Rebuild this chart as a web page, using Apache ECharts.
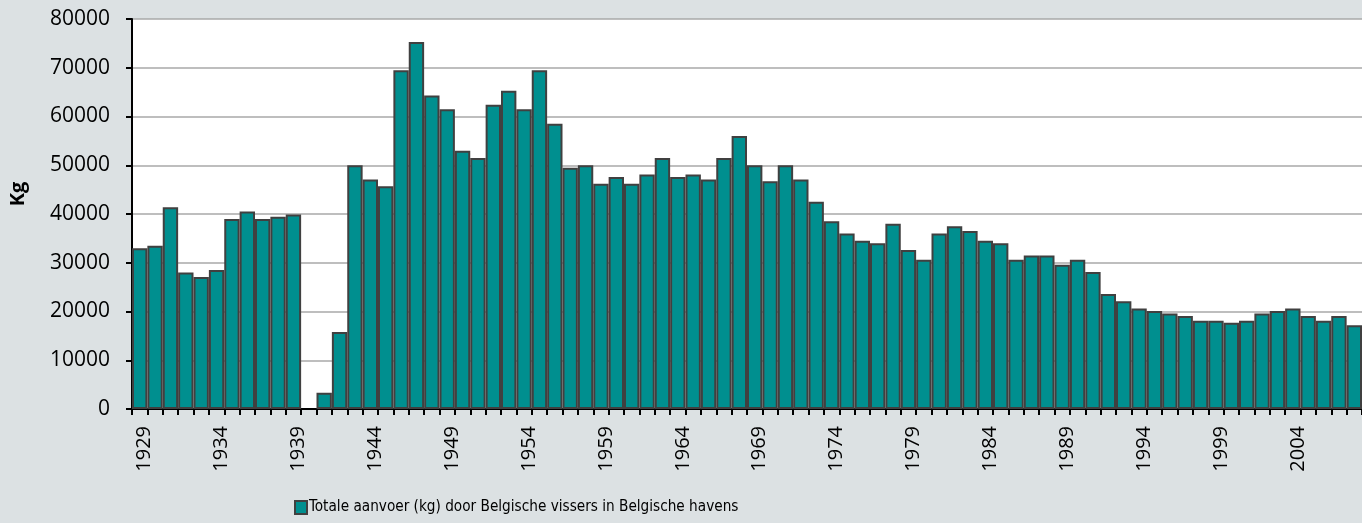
<!DOCTYPE html>
<html>
<head>
<meta charset="utf-8">
<script src="https://cdn.jsdelivr.net/npm/echarts@6/dist/echarts.min.js"></script>
<style>
html,body{margin:0;padding:0;background:#dce1e3;}
#chart{width:1362px;height:523px;}
</style>
</head>
<body>
<div id="chart"></div>
<script>
const years = [];
for (let y = 1929; y <= 2008; y++) years.push(String(y));

const seriesName = 'Totale aanvoer (kg) door Belgische vissers in Belgische havens';

const landings = [
  33000, 33500, 41400, 28000, 27100, 28500, 39000, 40500, 39000, 39450,
  39900, null, 3350, 15800, 50000, 47100, 45700, 69500, 75300, 64300,
  61500, 53000, 51500, 62400, 65300, 61500, 69500, 58500, 49500, 50000,
  46200, 47600, 46200, 48100, 51500, 47600, 48100, 47100, 51500, 56000,
  50000, 46700, 50000, 47100, 42500, 38500, 36000, 34500, 34000, 38000,
  32600, 30600, 36000, 37500, 36500, 34500, 34000, 30600, 31500, 31500,
  29600, 30600, 28100, 23600, 22100, 20600, 20100, 19600, 19100, 18100,
  18100, 17700, 18100, 19600, 20100, 20600, 19100, 18100, 19100, 17200
];

const yTicks = { min: 0, max: 80000, interval: 10000 };

const chart = echarts.init(document.getElementById('chart'), null, {renderer: 'canvas'});
const FONT = '"Open Sans", "Noto Sans", sans-serif';
chart.setOption({
  backgroundColor: '#dce1e3',
  animation: false,
  grid: {
    left: 131, top: 19, bottom: 114, width: 1238.4,
    show: true, backgroundColor: '#ffffff', borderWidth: 0
  },
  legend: {
    left: 294, top: 500, padding: 0,
    itemWidth: 12, itemHeight: 13, itemGap: 4,
    textStyle: { fontFamily: '"DejaVu Sans Condensed", Roboto, sans-serif', fontSize: 15.2, color: '#000', padding: [0, 0, 0, -3] },
    data: [{ name: seriesName, icon: 'rect', itemStyle: { color: '#008f8f', borderColor: '#404040', borderWidth: 2 } }]
  },
  xAxis: {
    type: 'category',
    data: years,
    boundaryGap: true,
    axisLine: { lineStyle: { color: '#000', width: 2 } },
    axisTick: { show: true, length: 6, interval: 0, lineStyle: { color: '#000', width: 2 } },
    axisLabel: {
      interval: 4, rotate: 90, margin: 17,
      fontFamily: FONT, fontSize: 20, color: '#000',
      verticalAlign: 'top', lineHeight: 10
    },
    splitLine: { show: false }
  },
  yAxis: {
    type: 'value',
    min: yTicks.min, max: yTicks.max, interval: yTicks.interval,
    name: 'Kg', nameLocation: 'middle', nameRotate: 90, nameGap: 104,
    nameTextStyle: { fontFamily: FONT, fontSize: 20, fontWeight: 'bold', color: '#000', padding: [0, 0, 0, 40] },
    axisLine: { show: true, lineStyle: { color: '#000', width: 2 } },
    axisTick: { show: true, length: 6, lineStyle: { color: '#000', width: 2 } },
    axisLabel: { margin: 22, fontFamily: FONT, fontSize: 21, color: '#000', formatter: v => String(v) },
    splitLine: { show: true, lineStyle: { color: '#a8a8a8', width: 1.5 } }
  },
  series: [{
    name: seriesName,
    type: 'bar',
    data: landings,
    barCategoryGap: '0%',
    itemStyle: { color: '#008f8f', borderColor: '#404040', borderWidth: 2 }
  }]
});
</script>
</body>
</html>
